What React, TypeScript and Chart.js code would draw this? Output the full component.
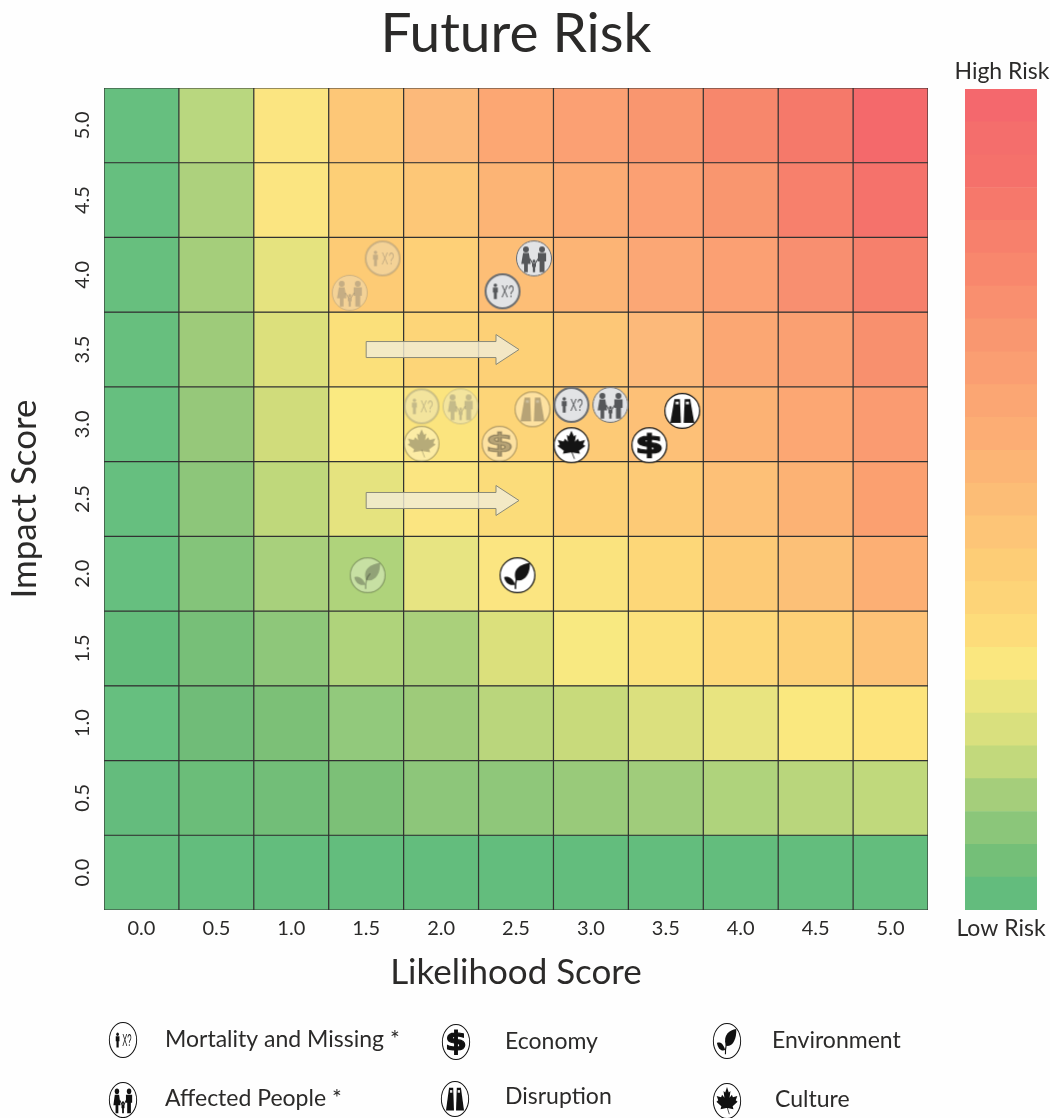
import React, { useEffect, useRef } from "react";
import { Chart, registerables } from "chart.js";
Chart.register(...registerables);

const FONT = "Lato";
const INK = "#2b2a29";

const likelihoodLabels = ["0.0", "0.5", "1.0", "1.5", "2.0", "2.5", "3.0", "3.5", "4.0", "4.5", "5.0"];
const impactLabels = ["0.0", "0.5", "1.0", "1.5", "2.0", "2.5", "3.0", "3.5", "4.0", "4.5", "5.0"];
const impactTicks = [0, 0.5, 1, 1.5, 2, 2.5, 3, 3.5, 4, 4.5, 5];

// colours of the matrix, bottom row (impact 0.0) first
const row00 = ["#63BD7D", "#63BD7D", "#63BD7D", "#63BD7D", "#63BD7D", "#63BD7D", "#63BD7D", "#63BD7D", "#63BD7D", "#63BD7D", "#63BD7D"];
const row05 = ["#64BC7D", "#6BBD79", "#72BE78", "#7CC077", "#8DC67A", "#8FC77A", "#99CA7A", "#A0CC7B", "#AFD37C", "#B9D67C", "#C0D97C"];
const row10 = ["#66BF7F", "#70BC78", "#7CC077", "#92C97C", "#9ECB7A", "#BAD67C", "#C8DA7B", "#DBE07E", "#E8E480", "#FAE87F", "#FDE47C"];
const row15 = ["#63BC7B", "#77BF78", "#8EC77A", "#AFD37B", "#AAD07B", "#DBE07C", "#F8E981", "#FBE17C", "#FDD879", "#FDD077", "#FDC277"];
const row20 = ["#66BF7F", "#84C47A", "#A8D07C", "#AFD37B", "#E7E482", "#FBE581", "#FAE37E", "#FDD778", "#FDCA76", "#FCC077", "#FCAF74"];
const row25 = ["#66BF7F", "#8DC67A", "#BFD87B", "#E5E37F", "#FBE581", "#FBDC7A", "#FDD076", "#FDCA76", "#FDC077", "#FCB274", "#FBA070"];
const row30 = ["#66BF7F", "#96C87A", "#D0DC7B", "#FAEA81", "#FBE47E", "#FDD578", "#FDCA76", "#FDC077", "#FCB274", "#FCA773", "#FA9B71"];
const row35 = ["#67BF7E", "#9ECB7A", "#DCE07C", "#FBE07A", "#FDD578", "#FDD076", "#FDC777", "#FCB97A", "#FBA773", "#FAA072", "#F8906E"];
const row40 = ["#67BF7E", "#A5CE7B", "#E5E37F", "#FDCB75", "#FED077", "#FDBE76", "#FCB475", "#FBA775", "#FBA073", "#F88F70", "#F6806C"];
const row45 = ["#66BF7F", "#ADD17D", "#FBE581", "#FDCF76", "#FDC777", "#FCB475", "#FCAB74", "#FBA073", "#F9966F", "#F7806C", "#F5726B"];
const row50 = ["#66BF7F", "#B9D77F", "#FBE581", "#FDC777", "#FCB97A", "#FCA773", "#FBA073", "#F9966F", "#F7876C", "#F5796A", "#F4696B"];
const matrixRows = [row00, row05, row10, row15, row20, row25, row30, row35, row40, row45, row50];

// risk bar bands, low risk first
const riskBands = ["#63BC7D", "#74BF78", "#8BC67A", "#A5CE7B", "#C2D97C", "#D9E07E", "#EAE57F", "#FAE77F", "#FDDC7A", "#FDD478", "#FDCD76", "#FDC577", "#FCBD76", "#FCB575", "#FCAD74", "#FBA673", "#FA9E72", "#F99770", "#F98F6F", "#F8876D", "#F7806C", "#F6786B", "#F5716B", "#F46E6C", "#F4686D"];

// markers: likelihood (x), impact (y)
const mortalityPast = { x: 1.87, y: 3.12 };
const mortalityPastB = { x: 1.61, y: 4.11 };
const affectedPast = { x: 2.13, y: 3.12 };
const affectedPastB = { x: 1.39, y: 3.88 };
const disruptionPast = { x: 2.61, y: 3.1 };
const culturePast = { x: 1.87, y: 2.87 };
const economyPast = { x: 2.39, y: 2.87 };
const environmentPast = { x: 1.51, y: 1.99 };
const mortalityNow = { x: 2.87, y: 3.13 };
const mortalityNowB = { x: 2.41, y: 3.89 };
const affectedNow = { x: 3.13, y: 3.13 };
const affectedNowB = { x: 2.62, y: 4.11 };
const disruptionNow = { x: 3.61, y: 3.09 };
const cultureNow = { x: 2.87, y: 2.86 };
const economyNow = { x: 3.39, y: 2.86 };
const environmentNow = { x: 2.51, y: 1.99 };

const arrowFromX = [1.5, 1.5];
const arrowToX = [2.52, 2.52];
const arrowY = [3.5, 2.49];

const legendLabels = ["Mortality and Missing *", "Economy", "Environment", "Affected People *", "Disruption", "Culture"];
const legendKinds = ["mortality", "economy", "environment", "affected", "disruption", "culture"];

type Kind = "mortality" | "affected" | "economy" | "disruption" | "environment" | "culture";

function person(c: CanvasRenderingContext2D, x: number, foot: number, h: number, dress: boolean) {
  const head = h * 0.115;
  const top = foot - h;
  c.beginPath();
  c.arc(x, top + head, head, 0, Math.PI * 2);
  c.fill();
  const w = h * 0.16;
  const sy = top + head * 2.2;
  c.beginPath();
  if (dress) {
    c.moveTo(x - w * 0.7, sy);
    c.lineTo(x + w * 0.7, sy);
    c.lineTo(x + w * 1.15, foot - h * 0.32);
    c.lineTo(x + w * 0.45, foot - h * 0.32);
    c.lineTo(x + w * 0.45, foot);
    c.lineTo(x - w * 0.45, foot);
    c.lineTo(x - w * 0.45, foot - h * 0.32);
    c.lineTo(x - w * 1.15, foot - h * 0.32);
  } else {
    c.moveTo(x - w, sy);
    c.lineTo(x + w, sy);
    c.lineTo(x + w, foot - h * 0.42);
    c.lineTo(x + w * 0.6, foot - h * 0.42);
    c.lineTo(x + w * 0.6, foot);
    c.lineTo(x - w * 0.6, foot);
    c.lineTo(x - w * 0.6, foot - h * 0.42);
    c.lineTo(x - w, foot - h * 0.42);
  }
  c.closePath();
  c.fill();
}

// draws a glyph in a unit circle centred at the origin
function glyph(c: CanvasRenderingContext2D, kind: Kind, col: string) {
  c.fillStyle = col;
  c.strokeStyle = col;
  if (kind === "mortality") {
    person(c, -0.42, 0.45, 0.9, false);
    c.save();
    c.translate(0.3, 0.38);
    c.scale(0.03, 0.05);
    c.font = `20px "Liberation Sans"`;
    c.textAlign = "center";
    c.textBaseline = "alphabetic";
    c.fillText("X?", 0, 0);
    c.restore();
  } else if (kind === "affected") {
    person(c, -0.47, 0.8, 1.5, true);
    person(c, 0.47, 0.8, 1.5, false);
    person(c, 0, 0.8, 0.72, false);
    c.lineWidth = 0.07;
    c.beginPath();
    c.moveTo(-0.26, 0.0);
    c.lineTo(-0.08, 0.28);
    c.moveTo(0.26, 0.0);
    c.lineTo(0.08, 0.28);
    c.stroke();
  } else if (kind === "economy") {
    c.save();
    c.scale(0.08, 0.052);
    c.font = `bold 30px "DejaVu Sans"`;
    c.textAlign = "center";
    c.textBaseline = "middle";
    c.lineWidth = 1.4;
    c.fillText("$", 0, 1);
    c.strokeText("$", 0, 1);
    c.restore();
  } else if (kind === "disruption") {
    for (const s of [-1, 1]) {
      c.beginPath();
      c.moveTo(s * 0.14, -0.68);
      c.lineTo(s * 0.46, -0.68);
      c.lineTo(s * 0.7, 0.7);
      c.lineTo(s * 0.08, 0.7);
      c.closePath();
      c.fill();
      c.save();
      c.fillStyle = "rgba(255,255,255,0.9)";
      c.fillRect(s * 0.3 - 0.09, -0.54, 0.18, 0.16);
      c.restore();
    }
  } else if (kind === "environment") {
    c.lineWidth = 0.09;
    c.beginPath();
    c.moveTo(-0.12, 0.8);
    c.quadraticCurveTo(-0.15, 0.2, 0.15, -0.1);
    c.stroke();
    c.beginPath();
    c.moveTo(-0.1, 0.28);
    c.bezierCurveTo(-0.32, -0.4, 0.2, -0.65, 0.72, -0.72);
    c.bezierCurveTo(0.76, -0.1, 0.42, 0.42, -0.1, 0.28);
    c.fill();
    c.beginPath();
    c.moveTo(-0.14, 0.55);
    c.bezierCurveTo(-0.3, 0.1, -0.6, 0.05, -0.78, 0.12);
    c.bezierCurveTo(-0.72, 0.45, -0.45, 0.65, -0.14, 0.55);
    c.fill();
  } else {
    const half = [[0, -0.85], [0.14, -0.52], [0.27, -0.6], [0.2, -0.2], [0.38, -0.38], [0.46, -0.22], [0.8, -0.3], [0.68, -0.04], [0.82, 0.04], [0.44, 0.32], [0.5, 0.5], [0.05, 0.42]];
    c.beginPath();
    half.forEach(([x, y], i) => (i ? c.lineTo(x, y) : c.moveTo(x, y)));
    [...half].reverse().forEach(([x, y]) => c.lineTo(-x, y));
    c.closePath();
    c.fill();
    c.lineWidth = 0.05;
    c.beginPath();
    c.moveTo(0, 0.35);
    c.lineTo(0.18, 0.8);
    c.stroke();
  }
}

function makeIcon(kind: Kind, faded: boolean) {
  const r = 18;
  const cv = document.createElement("canvas");
  cv.width = cv.height = 2 * r + 4;
  const c = cv.getContext("2d")!;
  c.translate(r + 2, r + 2);
  const human = kind === "mortality" || kind === "affected";
  const ring = human ? "#6b6d70" : "#111111";
  const fill = human ? "#E2E3E5" : "#FFFFFF";
  const ink = human ? "#55575A" : "#141414";
  const lw = kind === "mortality" ? 2 : human ? 1 : 1.2;
  c.globalAlpha = faded ? 0.3 : 1;
  c.beginPath();
  c.arc(0, 0, r - lw / 2, 0, Math.PI * 2);
  c.fillStyle = fill;
  c.fill();
  c.lineWidth = lw;
  c.strokeStyle = ring;
  c.stroke();
  c.scale(r * 0.95, r * 0.95);
  glyph(c, kind, ink);
  return cv;
}

function iconSet(kind: Kind, past: any[], now: any[]) {
  return [
    { type: "scatter", xAxisID: "xv", yAxisID: "yv", order: 0, data: past, pointStyle: makeIcon(kind, true), pointRadius: 18, clip: false },
    { type: "scatter", xAxisID: "xv", yAxisID: "yv", order: 0, data: now, pointStyle: makeIcon(kind, false), pointRadius: 18, clip: false },
  ];
}

const overlay = {
  id: "overlay",
  beforeDatasetsDraw(chart: any) {
    const c: CanvasRenderingContext2D = chart.ctx;
    const a = chart.chartArea;
    c.save();
    c.fillStyle = "#333333";
    c.fillRect(a.left, a.top, a.right - a.left, a.bottom - a.top);
    c.restore();
  },
  afterDatasetsDraw(chart: any) {
    const c: CanvasRenderingContext2D = chart.ctx;
    const { xv, yv } = chart.scales;
    arrowY.forEach((v, i) => {
      const x0 = xv.getPixelForValue(arrowFromX[i]);
      const x1 = xv.getPixelForValue(arrowToX[i]);
      const y = yv.getPixelForValue(v);
      c.save();
      c.beginPath();
      c.moveTo(x0, y - 8);
      c.lineTo(x1 - 23, y - 8);
      c.lineTo(x1 - 23, y - 15);
      c.lineTo(x1, y);
      c.lineTo(x1 - 23, y + 15);
      c.lineTo(x1 - 23, y + 8);
      c.lineTo(x0, y + 8);
      c.closePath();
      c.fillStyle = "rgba(240,236,214,0.82)";
      c.fill();
      c.strokeStyle = "#8a8a78";
      c.lineWidth = 1;
      c.stroke();
      c.restore();
    });
  },
  afterDraw(chart: any) {
    const c: CanvasRenderingContext2D = chart.ctx;
    c.save();
    c.fillStyle = INK;
    c.font = `23px ${FONT}`;
    c.textBaseline = "middle";
    c.textAlign = "center";
    c.fillText("High Risk", 1002, 72);
    c.fillText("Low Risk", 1001, 929);
    c.textAlign = "left";
    const iconX = [123, 456, 727, 123, 455, 727];
    const iconY = [1040, 1042, 1041, 1100, 1099, 1101];
    const textX = [165, 505, 772, 165, 505, 775];
    const textY = [1040, 1042, 1041, 1099, 1097, 1100];
    legendLabels.forEach((t, i) => {
      c.fillStyle = INK;
      c.font = `23px ${FONT}`;
      c.fillText(t, textX[i], textY[i]);
      c.save();
      c.translate(iconX[i], iconY[i]);
      c.scale(0.78, 1);
      c.beginPath();
      c.arc(0, 0, 17.5, 0, Math.PI * 2);
      c.fillStyle = "#fff";
      c.fill();
      c.lineWidth = 1.2;
      c.strokeStyle = "#111";
      c.stroke();
      c.scale(16.5, 16.5);
      glyph(c, legendKinds[i] as Kind, "#111");
      c.restore();
    });
    c.restore();
  },
};

export default function App() {
  const mainRef = useRef<HTMLCanvasElement>(null);
  const barRef = useRef<HTMLCanvasElement>(null);
  useEffect(() => {
    document.body.style.background = "#FEFEFE";
    const bars = matrixRows.map((row) => ({
      type: "bar",
      xAxisID: "x",
      yAxisID: "y",
      order: 1,
      stack: "matrix",
      grouped: false,
      data: row.map(() => 1),
      backgroundColor: row,
      borderColor: "#333333",
      borderWidth: 0.6,
      borderSkipped: false,
      inflateAmount: 0,
      barPercentage: 1,
      categoryPercentage: 1,
    }));
    const main = new Chart(mainRef.current!, {
      data: {
        labels: likelihoodLabels,
        datasets: [
          ...iconSet("mortality", [mortalityPast, mortalityPastB], [mortalityNow, mortalityNowB]),
          ...iconSet("affected", [affectedPast, affectedPastB], [affectedNow, affectedNowB]),
          ...iconSet("economy", [economyPast], [economyNow]),
          ...iconSet("disruption", [disruptionPast], [disruptionNow]),
          ...iconSet("environment", [environmentPast], [environmentNow]),
          ...iconSet("culture", [culturePast], [cultureNow]),
          ...bars,
        ] as any,
      },
      options: {
        animation: false,
        responsive: false,
        events: [],
        layout: { padding: { left: 4, right: 122, bottom: 124, top: 0 } },
        plugins: {
          legend: { display: false },
          tooltip: { enabled: false },
          title: {
            display: true,
            text: "Future Risk",
            fullSize: false,
            color: INK,
            font: { family: FONT, size: 55, weight: "normal", lineHeight: 1 },
            padding: { top: 7, bottom: 26 },
          },
        },
        scales: {
          x: {
            type: "category",
            stacked: true,
            offset: true,
            position: "bottom",
            grid: { display: false, drawTicks: false },
            border: { display: false },
            ticks: { color: INK, font: { family: FONT, size: 20 }, padding: 7, maxRotation: 0, autoSkip: false },
            title: { display: true, text: "Likelihood Score", color: INK, font: { family: FONT, size: 35 }, padding: 0 },
            afterFit: (s: any) => { s.height = 84; },
          },
          y: { type: "linear", stacked: true, min: 0, max: 11, display: false },
          xv: { type: "linear", min: -0.25, max: 5.25, display: false, position: "bottom" },
          yv: {
            type: "linear",
            min: -0.25,
            max: 5.25,
            position: "left",
            grid: { display: false, drawTicks: false },
            border: { display: false },
            afterBuildTicks: (s: any) => { s.ticks = impactTicks.map((value) => ({ value })); },
            ticks: {
              color: INK,
              font: { family: FONT, size: 20 },
              minRotation: 90,
              maxRotation: 90,
              crossAlign: "center",
              padding: 7,
              autoSkip: false,
              callback: (_v: any, i: number) => impactLabels[i],
            },
            title: { display: true, text: "Impact Score", color: INK, font: { family: FONT, size: 35 }, padding: 0 },
            afterFit: (s: any) => { s.width = 100; },
          },
        },
      } as any,
      plugins: [overlay],
    });
    const bar = new Chart(barRef.current!, {
      type: "bar",
      data: {
        labels: ["risk"],
        datasets: riskBands.map((b) => ({
          data: [1],
          backgroundColor: b,
          barPercentage: 1,
          categoryPercentage: 1,
          borderWidth: 0,
        })),
      },
      options: {
        animation: false,
        responsive: false,
        events: [],
        plugins: { legend: { display: false }, tooltip: { enabled: false } },
        scales: {
          x: { stacked: true, display: false },
          y: { stacked: true, display: false, min: 0, max: riskBands.length },
        },
      } as any,
    });
    return () => {
      main.destroy();
      bar.destroy();
    };
  }, []);
  return (
    <>
      <canvas ref={mainRef} width={1050} height={1118} style={{ position: "absolute", left: 0, top: 0, display: "block" }} />
      <canvas ref={barRef} width={72} height={821} style={{ position: "absolute", left: 965, top: 89, display: "block" }} />
    </>
  );
}
